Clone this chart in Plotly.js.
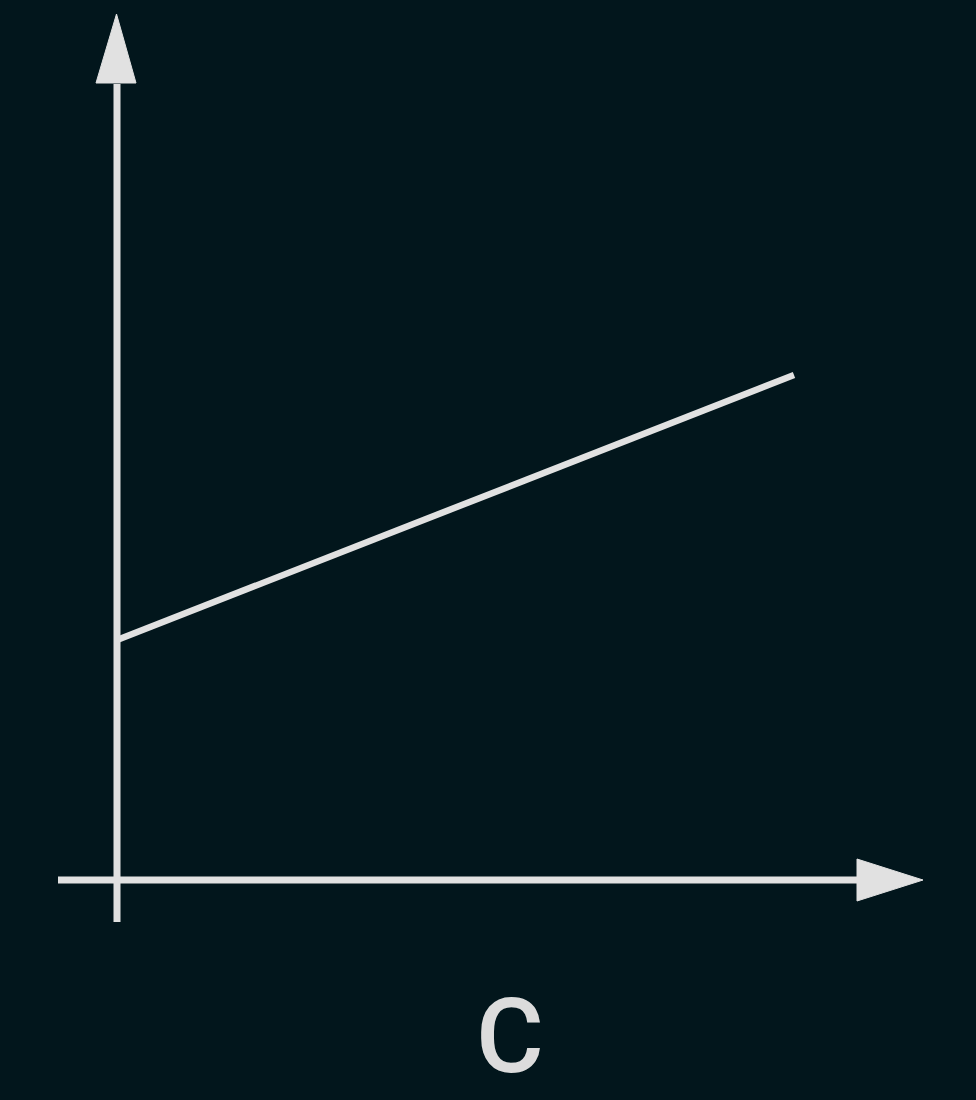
<!DOCTYPE html>
<html>
<head>
<meta charset="utf-8">
<script src="https://cdn.plot.ly/plotly-3.0.1.min.js"></script>
<style>
html,body{margin:0;padding:0;background:#02161c;}
#chart{width:976px;height:1100px;}
</style>
</head>
<body>
<div id="chart"></div>
<script>
// Data
const xValues = [0, 10];
const yValues = [4.8, 10.1];
const axisLabel = "C";

const BG = "#02161c";
const FG = "#e1e1e1";

// scales: x 67.7 px/unit with origin at px 117; y 50 px/unit with origin at px 880
const xr = [-117/67.7, (976-117)/67.7];
const yr = [(880-1100)/50, 880/50];

function px2x(p){ return (p-117)/67.7; }
function py2y(p){ return (880-p)/50; }

const shapes = [
  // vertical axis
  {type:"line", xref:"x", yref:"y", x0:0, x1:0, y0:py2y(922), y1:py2y(84),
   line:{color:FG, width:7}},
  // horizontal axis
  {type:"line", xref:"x", yref:"y", x0:px2x(58), x1:px2x(860), y0:0, y1:0,
   line:{color:FG, width:7}},
  // up arrowhead
  {type:"path", xref:"x", yref:"y",
   path:`M ${px2x(96)} ${py2y(83)} L ${px2x(116.5)} ${py2y(14)} L ${px2x(136)} ${py2y(83)} Z`,
   fillcolor:FG, line:{color:FG, width:1}},
  // right arrowhead
  {type:"path", xref:"x", yref:"y",
   path:`M ${px2x(857)} ${py2y(859)} L ${px2x(923)} ${py2y(880)} L ${px2x(857)} ${py2y(901)} Z`,
   fillcolor:FG, line:{color:FG, width:1}}
];

const trace = {
  x: xValues, y: yValues, type:"scatter", mode:"lines",
  line:{color:FG, width:6.5}, hoverinfo:"skip", showlegend:false
};

const layout = {
  width:976, height:1100,
  margin:{l:0,r:0,t:0,b:0,pad:0},
  paper_bgcolor:BG, plot_bgcolor:BG,
  xaxis:{range:xr, visible:false, fixedrange:true},
  yaxis:{range:yr, visible:false, fixedrange:true},
  shapes: shapes,
  annotations:[{
    text: axisLabel, xref:"paper", yref:"paper",
    x: 510/976, y: 1 - 1036/1100, xanchor:"center", yanchor:"middle",
    showarrow:false, font:{family:"Roboto, Inter, sans-serif", size:104, weight:500, color:"#dcdcdc"}
  }],
  showlegend:false
};

Plotly.newPlot("chart", [trace], layout, {staticPlot:true, displayModeBar:false});
</script>
</body>
</html>
